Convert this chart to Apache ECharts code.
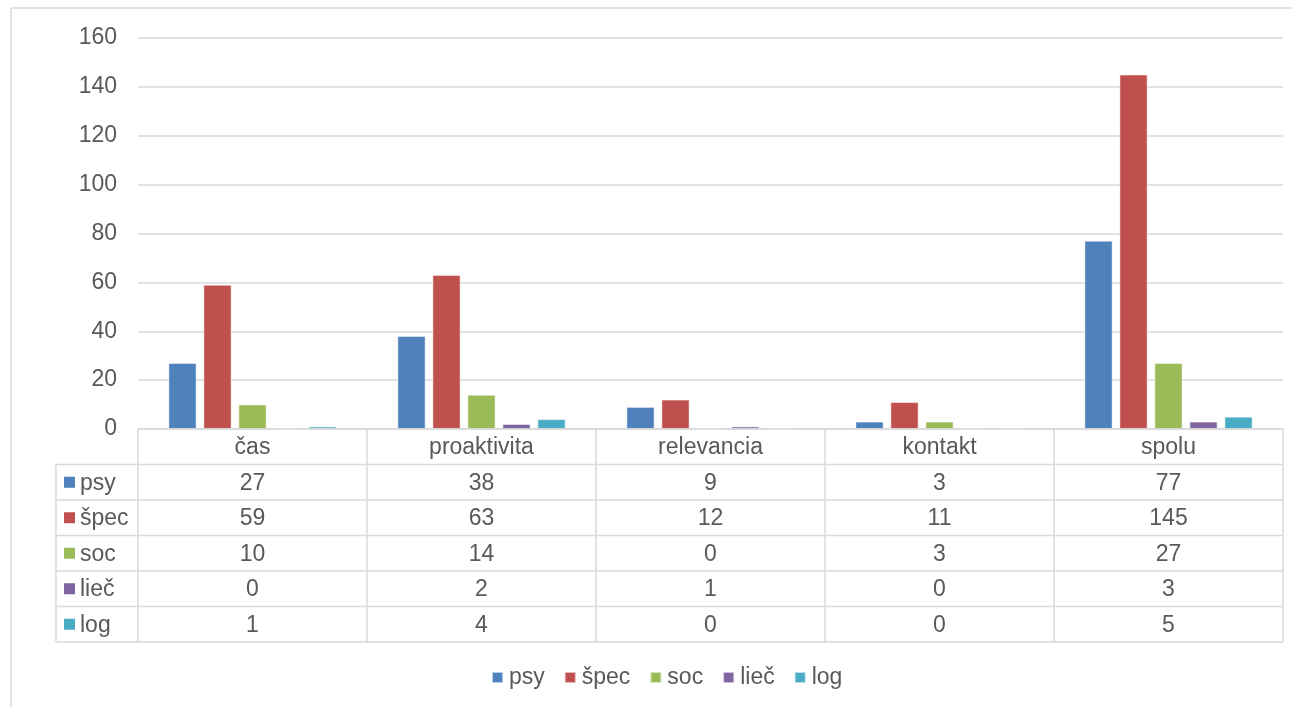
<!DOCTYPE html>
<html>
<head>
<meta charset="utf-8">
<script src="https://cdn.jsdelivr.net/npm/echarts@6/dist/echarts.min.js"></script>
<style>
html,body{margin:0;padding:0;background:#fff;}
#c{width:1292px;height:707px;}
</style>
</head>
<body>
<div id="c"></div>
<script>
const categories = ['čas', 'proaktivita', 'relevancia', 'kontakt', 'spolu'];
const seriesNames = ['psy', 'špec', 'soc', 'lieč', 'log'];
const psy = [27, 38, 9, 3, 77];
const spec = [59, 63, 12, 11, 145];
const soc = [10, 14, 0, 3, 27];
const liec = [0, 2, 1, 0, 3];
const logv = [1, 4, 0, 0, 5];
const yMin = 0, yMax = 160, yStep = 20;

const seriesData = [psy, spec, soc, liec, logv];
const colors = ['#4f81bd', '#c0504d', '#9bbb59', '#8064a2', '#4bacc6'];
const FONT = 'Liberation Sans, Arial, sans-serif';
const FS = 23;
const TXT = '#595959';
const LINE = '#d9d9d9';

const chart = echarts.init(document.getElementById('c'), null, {renderer: 'canvas'});
const option = {
  animation: false,
  backgroundColor: '#fff',
  color: colors,
  textStyle: {fontFamily: FONT},
  grid: {left: 138, right: 9, top: 38, bottom: 278, containLabel: false},
  legend: {
    data: seriesNames,
    left: 486,
    top: 661,
    itemWidth: 11,
    itemHeight: 11,
    itemGap: 19,
    icon: 'rect',
    textStyle: {fontSize: FS, color: TXT, fontFamily: FONT, padding: [0, 0, 0, 1]}
  },
  xAxis: {
    type: 'category',
    data: categories,
    axisLine: {show: false},
    axisTick: {show: false},
    axisLabel: {show: false},
    splitLine: {show: false}
  },
  yAxis: {
    type: 'value',
    min: yMin, max: yMax, interval: yStep,
    axisLine: {show: false},
    axisTick: {show: false},
    axisLabel: {fontSize: FS, color: TXT, fontFamily: FONT, margin: 21},
    splitLine: {lineStyle: {color: LINE, width: 1.5}}
  },
  series: seriesNames.map((n, i) => ({
    name: n,
    type: 'bar',
    data: seriesData[i],
    barWidth: 28,
    barGap: '25%',
    itemStyle: {color: colors[i], borderColor: 'rgba(255,255,255,0.6)', borderWidth: 0.8}
  }))
};
chart.setOption(option);

function buildTable() {
  const c0 = chart.convertToPixel({xAxisIndex: 0}, categories[0]);
  const c1 = chart.convertToPixel({xAxisIndex: 0}, categories[1]);
  const w = c1 - c0;
  const x0 = c0 - w / 2;
  const xEnd = x0 + w * categories.length;
  const y0 = chart.convertToPixel({yAxisIndex: 0}, 0);
  const rowH = 35.5;
  const labelLeft = 56;
  const nRows = seriesNames.length + 1;
  const yBottom = y0 + rowH * nRows;
  const els = [];
  const ls = {stroke: LINE, lineWidth: 1.5};
  // outer chart border (left and top visible)
  els.push({type: 'line', shape: {x1: 11, y1: 8, x2: 11, y2: 707}, style: ls, silent: true});
  els.push({type: 'line', shape: {x1: 11, y1: 8, x2: 1292, y2: 8}, style: ls, silent: true});
  // horizontal lines
  els.push({type: 'line', shape: {x1: x0, y1: y0, x2: xEnd, y2: y0}, style: ls, z: 10});
  for (let k = 1; k <= nRows; k++) {
    const y = y0 + rowH * k;
    els.push({type: 'line', shape: {x1: labelLeft, y1: y, x2: xEnd, y2: y}, style: ls});
  }
  // vertical lines
  for (let i = 0; i <= categories.length; i++) {
    const x = x0 + w * i;
    els.push({type: 'line', shape: {x1: x, y1: y0, x2: x, y2: yBottom}, style: ls});
  }
  els.push({type: 'line', shape: {x1: labelLeft, y1: y0 + rowH, x2: labelLeft, y2: yBottom}, style: ls});
  // header
  categories.forEach((cat, i) => {
    els.push({type: 'text', x: x0 + w * (i + 0.5), y: y0 + rowH / 2 + 1,
      style: {text: cat, fill: TXT, font: FS + 'px ' + FONT, textAlign: 'center', textVerticalAlign: 'middle'}});
  });
  // rows
  seriesNames.forEach((n, r) => {
    const yc = y0 + rowH * (r + 1.5) + 1;
    els.push({type: 'rect', shape: {x: 64, y: yc - 6.5, width: 11, height: 11}, style: {fill: colors[r]}});
    els.push({type: 'text', x: 80, y: yc,
      style: {text: n, fill: TXT, font: FS + 'px ' + FONT, textAlign: 'left', textVerticalAlign: 'middle'}});
    seriesData[r].forEach((v, i) => {
      els.push({type: 'text', x: x0 + w * (i + 0.5), y: yc,
        style: {text: String(v), fill: TXT, font: FS + 'px ' + FONT, textAlign: 'center', textVerticalAlign: 'middle'}});
    });
  });
  chart.setOption({graphic: {elements: els}});
}
buildTable();
</script>
</body>
</html>
